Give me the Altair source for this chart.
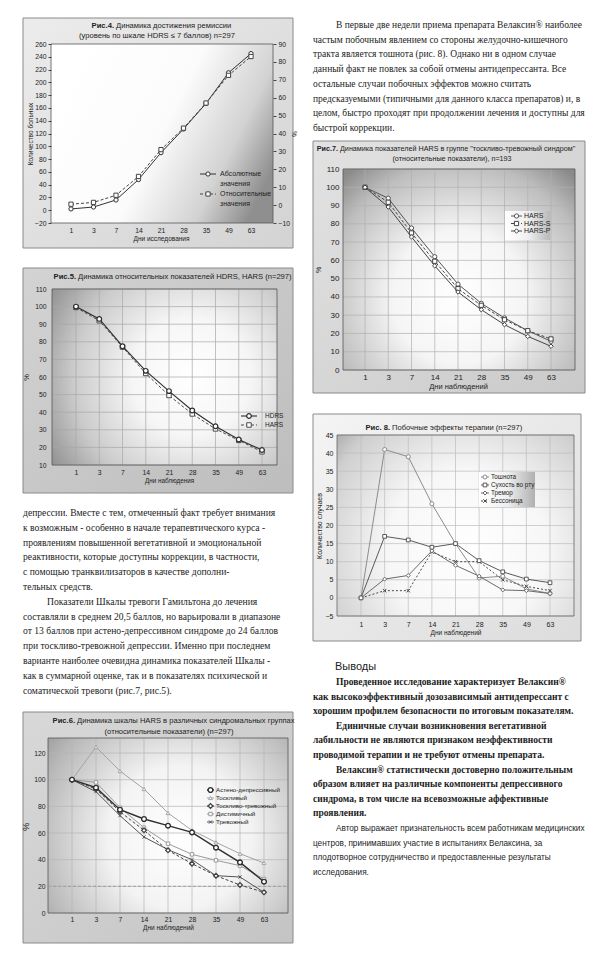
import altair as alt
import pandas as pd

SANS = "Liberation Sans, Arial, sans-serif"
SERIF = "Liberation Serif, Times New Roman, serif"
INK = "#222222"
XPATH = "M-1,-1L1,1M-1,1L1,-1"

days = ["1", "3", "7", "14", "21", "28", "35", "49", "63"]

# Рис.4
fig4_abs = [2, 5, 16, 48, 90, 127, 167, 215, 245]
fig4_rel = [0.5, 1.5, 5.5, 16, 31, 43, 57, 72.5, 83]
fig4_left_ticks = [-20, 0, 20, 40, 60, 80, 100, 120, 140, 160, 180, 200, 220, 240, 260]
fig4_right_ticks = [-10, 0, 10, 20, 30, 40, 50, 60, 70, 80, 90]

# Рис.5
fig5_hdrs = [100, 93, 77.5, 63.5, 52, 41, 32, 24.5, 18.5]
fig5_hars = [99.5, 92, 77, 62, 49.5, 39, 30.5, 24, 17.5]
fig5_ticks = [10, 20, 30, 40, 50, 60, 70, 80, 90, 100, 110]

# Рис.6
fig6_astheno = [100, 94, 77.5, 70.5, 65.5, 60.5, 49, 38, 23.5]
fig6_toskl = [100, 124.5, 106.5, 93, 75, 62, 53, 44.5, 37.5]
fig6_tosk_trev = [100, 93, 76, 62, 47, 37, 28, 21, 15.5]
fig6_dist = [100, 98, 79, 64, 52, 44, 39.5, 35.5, 25.5]
fig6_trev = [100, 91, 73, 57, 47.5, 40, 28, 27, 15.5]
fig6_ticks = [0, 20, 40, 60, 80, 100, 120]

# Рис.7
fig7_hars = [100, 94, 77.7, 62, 47, 36.5, 28.5, 21.5, 15.7]
fig7_hars_s = [100, 91.8, 75, 59.5, 44.5, 35.4, 27.5, 21.5, 17]
fig7_hars_p = [100, 89.2, 72.8, 57, 42.7, 33, 24.8, 18.4, 13]
fig7_ticks = [0, 10, 20, 30, 40, 50, 60, 70, 80, 90, 100, 110]

# Рис.8
fig8_nausea = [0, 41, 39, 26, 15, 5.5, 6, 2.5, 1.2]
fig8_dry = [0, 17, 16, 14, 15, 10.3, 7.2, 5.2, 4.2]
fig8_tremor = [0, 5.2, 6.2, 13, 9, 6, 2.2, 2, 1.2]
fig8_insomnia = [0, 2, 2, 12.7, 10, 10, 5, 3.2, 2]
fig8_ticks = [-5, 0, 5, 10, 15, 20, 25, 30, 35, 40, 45]

text_right_top = [
    "В первые две недели приема препарата Велаксин® наиболее",
    "частым побочным явлением со стороны желудочно-кишечного",
    "тракта является тошнота (рис. 8). Однако ни в одном случае",
    "данный факт не повлек за собой отмены антидепрессанта. Все",
    "остальные   случаи   побочных   эффектов   можно   считать",
    "предсказуемыми (типичными для данного класса препаратов) и, в",
    "целом, быстро проходят при продолжении лечения и доступны для",
    "быстрой коррекции.",
]
text_right_top_ind = [1, 0, 0, 0, 0, 0, 0, 0]

text_left = [
    "депрессии. Вместе с тем, отмеченный факт требует внимания",
    "к возможным - особенно в начале терапевтического курса -",
    "проявлениям повышенной вегетативной и эмоциональной",
    "реактивности, которые доступны коррекции, в частности,",
    "с   помощью   транквилизаторов   в   качестве   дополни-",
    "тельных средств.",
    "Показатели Шкалы тревоги Гамильтона до лечения",
    "составляли в среднем 20,5 баллов, но варьировали в диапазоне",
    "от 13 баллов при астено-депрессивном синдроме до 24 баллов",
    "при тоскливо-тревожной депрессии. Именно при последнем",
    "варианте наиболее очевидна динамика показателей Шкалы -",
    "как в суммарной оценке, так и в показателях психической и",
    "соматической тревоги (рис.7, рис.5).",
]
text_left_ind = [0, 0, 0, 0, 0, 0, 1, 0, 0, 0, 0, 0, 0]

conc_heading = "Выводы"
conc_bold = [
    "Проведенное исследование характеризует Велаксин®",
    "как высокоэффективный дозозависимый антидепрессант с",
    "хорошим профилем безопасности по итоговым показателям.",
    "Единичные   случаи   возникновения   вегетативной",
    "лабильности не являются признаком неэффективности",
    "проводимой терапии и не требуют отмены препарата.",
    "Велаксин®  статистически достоверно положительным",
    "образом влияет на различные компоненты депрессивного",
    "синдрома, в том числе на всевозможные аффективные",
    "проявления.",
]
conc_bold_ind = [1, 0, 0, 1, 0, 0, 1, 0, 0, 0]
conc_thanks = [
    "Автор выражает признательность всем работникам медицинских",
    "центров,  принимавших  участие  в  испытаниях  Велаксина,  за",
    "плодотворное  сотрудничество  и  предоставленные  результаты",
    "исследования.",
]
conc_thanks_ind = [1, 0, 0, 0]


def one():
    return pd.DataFrame({"k": [0]})


def lin(stops, x1=0, y1=0, x2=1, y2=0):
    return alt.LinearGradient(gradient="linear",
                              stops=[alt.GradientStop(offset=o, color=c) for o, c in stops],
                              x1=x1, y1=y1, x2=x2, y2=y2)


def rad(stops, cx, cy, r):
    return alt.RadialGradient(gradient="radial",
                              stops=[alt.GradientStop(offset=o, color=c) for o, c in stops],
                              x1=cx, y1=cy, r1=0, x2=cx, y2=cy, r2=r)


def rect(x0, y0, x1, y1, **kw):
    return alt.Chart(one()).mark_rect(**kw).encode(
        x=alt.value(x0), x2=alt.value(x1), y=alt.value(y0), y2=alt.value(y1))


def txt(s, x, y, size, align="center", weight="normal", font=SANS, color=INK):
    return alt.Chart(pd.DataFrame({"t": [s]})).mark_text(
        align=align, baseline="middle", font=font, fontSize=size, fontWeight=weight, color=color
    ).encode(text="t:N", x=alt.value(x), y=alt.value(y))


def x_axis(title, offset, fs, tfs, lpad, tpad):
    return alt.Axis(title=title, offset=offset, labelAngle=0, domain=False, ticks=False, grid=False,
                    labelFont=SANS, labelFontSize=fs, labelColor=INK, labelPadding=lpad,
                    titleFont=SANS, titleFontSize=tfs, titleFontWeight="normal", titleColor=INK,
                    titlePadding=tpad, zindex=1)


def y_axis(title, values, offset, fs, tfs, lpad, tpad, orient="left", ticks=False):
    kw = dict(title=title, values=values, offset=offset, orient=orient, domain=False, grid=False,
              labelFont=SANS, labelFontSize=fs, labelColor=INK, labelPadding=lpad, labelOverlap=False,
              titleFont=SANS, titleFontSize=tfs, titleFontWeight="normal", titleColor=INK,
              titlePadding=tpad, zindex=1)
    if ticks:
        kw.update(ticks=True, tickSize=3, tickColor="#444444")
    else:
        kw["ticks"] = False
    return alt.Axis(**kw)


def xenc(xr, axis):
    return alt.X("day:O", scale=alt.Scale(type="point", domain=days, range=xr, padding=0), axis=axis)


def yenc(dom, yr, axis):
    return alt.Y("value:Q", scale=alt.Scale(domain=dom, range=yr, nice=False, zero=False), axis=axis)


def series_layers(X, Y, s):
    df = pd.DataFrame({"day": days, "value": s["values"]})
    base = alt.Chart(df)
    lk = {"color": s["color"], "strokeWidth": s.get("w", 1.0)}
    if "dash" in s:
        lk["strokeDash"] = s["dash"]
    line = base.mark_line(**lk).encode(x=X, y=Y)
    pts = base.mark_point(shape=s["shape"], filled=True, fill="white", stroke=s["color"],
                          strokeWidth=s.get("pw", 1.0), size=s.get("size", 18), opacity=1
                          ).encode(x=X, y=Y)
    return [line, pts]


def grid_layers(X, Y, ticks, L, T, R, B, color, w=0.7):
    gv = alt.Chart(pd.DataFrame({"day": days})).mark_rule(color=color, strokeWidth=w).encode(
        x=X, y=alt.value(T), y2=alt.value(B))
    gh = alt.Chart(pd.DataFrame({"value": ticks})).mark_rule(color=color, strokeWidth=w).encode(
        y=Y, x=alt.value(L), x2=alt.value(R))
    return [gv, gh]


def legend_group(entries, ys, sx0, sx1, tx, fs, text_kw=None):
    names = [e["name"] for e in entries]
    LY = alt.Y("series:N", scale=alt.Scale(type="point", domain=names, range=ys, padding=0), axis=None)
    tk = {"align": "left", "baseline": "middle", "font": SANS, "fontSize": fs, "color": INK}
    tk.update(text_kw or {})
    layers = []
    for e in entries:
        df = pd.DataFrame({"series": [e["name"]], "label": [e.get("label", e["name"])]})
        b = alt.Chart(df)
        rk = {"color": e["color"], "strokeWidth": e.get("w", 1.0)}
        if "dash" in e:
            rk["strokeDash"] = e["dash"]
        layers.append(b.mark_rule(**rk).encode(x=alt.value(sx0), x2=alt.value(sx1), y=LY))
        layers.append(b.mark_point(shape=e["shape"], filled=True, fill="white", stroke=e["color"],
                                   strokeWidth=e.get("pw", 1.0), size=e.get("size", 18), opacity=1
                                   ).encode(x=alt.value((sx0 + sx1) / 2), y=LY))
        layers.append(b.mark_text(**tk).encode(x=alt.value(tx), y=LY, text="label:N"))
    return alt.layer(*layers)


def frame(L, T, R, B, color="#555555"):
    return rect(L, T, R, B, fillOpacity=0, stroke=color, strokeWidth=0.8)


TS = 7.6   # chart title size
LS = 6.8   # tick label size


# ---------------- Рис.4 ----------------
def make_fig4():
    W, H = 270, 230
    L, T, R, B = 28, 26, 250, 205
    X = xenc([48, 228], x_axis("Дни исследования", -(H - B), LS, 6.5, 4, 2))
    YL = yenc([-20, 260], [B, T], y_axis("Количество больных", fig4_left_ticks, -L, LS, 6.5, 2, 1, ticks=True))
    YR = yenc([-10, 90], [B, T], y_axis("%", fig4_right_ticks, -(W - R), LS, 6.5, 2, 1, orient="right", ticks=True))
    s_abs = {"name": "abs", "values": fig4_abs, "color": "#333333", "shape": "circle", "size": 18,
             "label": "Абсолютные\nзначения"}
    s_rel = {"name": "rel", "values": fig4_rel, "color": "#444444", "shape": "square", "size": 18,
             "dash": [3, 2], "label": "Относительные\nзначения"}
    left = alt.layer(frame(L, T, R, B), *series_layers(X, YL, s_abs))
    right = alt.layer(*series_layers(X, YR, s_rel))
    leg = legend_group([s_abs, s_rel], [156, 176], 177, 193, 197, 7,
                       {"lineBreak": "\n", "baseline": "top", "dy": -4, "lineHeight": 9.5})
    layers = [
        rect(0, 0, W, H, fill=lin([(0, "#ececec"), (1, "#d3d3d3")], 0, 0, 1, 1), stroke="#8a8a8a", strokeWidth=1),
        rect(L, T, R, B, fill=lin([(0, "#ffffff"), (0.5, "#fbfbfb"), (0.8, "#d2d2d2"), (1, "#8f8f8f")], 0, 0.3, 1, 0.7)),
        left, right, leg,
        txt("Рис.4.", 91, 8, TS, align="right", weight="bold"),
        txt("Динамика достижения ремиссии", 93, 8, TS, align="left"),
        txt("(уровень по шкале HDRS ≤  7 баллов) n=297", 134, 18, TS),
    ]
    return alt.layer(*layers).resolve_scale(y="independent").properties(width=W, height=H)


# ---------------- Рис.5 ----------------
def make_fig5():
    W, H = 270, 225
    L, T, R, B = 29, 21, 254, 197
    X = xenc([53, 239], x_axis("Дни наблюдения", -(H - B), LS, 6.3, 4, 2))
    Y = yenc([10, 110], [B, T], y_axis("%", fig5_ticks, -L, LS, 7.5, 6, 4))
    s1 = {"name": "HDRS", "values": fig5_hdrs, "color": "#2e2e2e", "shape": "circle", "size": 22, "w": 1.1, "pw": 1.2}
    s2 = {"name": "HARS", "values": fig5_hars, "color": "#4a4a4a", "shape": "square", "size": 20, "dash": [3, 2]}
    data = alt.layer(*grid_layers(X, Y, fig5_ticks, L, T, R, B, "#a8a8a8"), frame(L, T, R, B),
                     *series_layers(X, Y, s2), *series_layers(X, Y, s1))
    leg = legend_group([s1, s2], [148, 157], 218, 234, 242, 6.5)
    layers = [
        rect(0, 0, W, H, fill=lin([(0, "#d3d3d3"), (1, "#bdbdbd")], 0, 0, 1, 1), stroke="#8a8a8a", strokeWidth=1),
        rect(L, T, R, B, fill=rad([(0, "#ffffff"), (0.35, "#f6f6f6"), (0.7, "#cbcbcb"), (1, "#8c8c8c")], 0.62, 0.5, 0.75)),
        data, leg,
        txt("Рис.5.", 53, 9, TS, align="right", weight="bold"),
        txt("Динамика относительных показателей HDRS, HARS (n=297)", 55, 9, TS, align="left"),
    ]
    return alt.layer(*layers).resolve_scale(y="independent").properties(width=W, height=H)


# ---------------- Рис.6 ----------------
def make_fig6():
    W, H = 270, 231
    L, T, R, B = 25, 26, 265, 201
    X = xenc([49, 241], x_axis("Дни наблюдений", -(H - B), LS, 6.5, 3, 2))
    Y = yenc([0, 130], [B, 27.7], y_axis("%", fig6_ticks, -L, LS, 9.5, 3, 3))
    sa = {"name": "Астено-депрессивный", "values": fig6_astheno, "color": "#2f2f2f", "shape": "circle",
          "size": 22, "w": 1.4, "pw": 1.4}
    sb = {"name": "Тоскливый", "values": fig6_toskl, "color": "#a3a3a3", "shape": "triangle-up", "size": 14}
    sc = {"name": "Тоскливо-тревожный", "values": fig6_tosk_trev, "color": "#404040", "shape": "diamond",
          "size": 22, "dash": [3, 2], "pw": 1.3}
    sd = {"name": "Дистимичный", "values": fig6_dist, "color": "#9a9a9a", "shape": "square", "size": 12}
    se = {"name": "Тревожный", "values": fig6_trev, "color": "#555555", "shape": XPATH, "size": 10}
    dash20 = alt.Chart(pd.DataFrame({"value": [20]})).mark_rule(color="#9a9a9a", strokeDash=[3, 2], strokeWidth=0.9).encode(
        y=Y, x=alt.value(L), x2=alt.value(R))
    data = alt.layer(*grid_layers(X, Y, fig6_ticks, L, T, R, B, "#b4b4b4"), frame(L, T, R, B), dash20,
                     *series_layers(X, Y, sb), *series_layers(X, Y, sd), *series_layers(X, Y, se),
                     *series_layers(X, Y, sc), *series_layers(X, Y, sa))
    leg = legend_group([sa, sb, sc, sd, se], [78, 110], 184, 191, 193, 6.2)
    layers = [
        rect(0, 0, W, H, fill=lin([(0, "#d8d8d8"), (1, "#c4c4c4")], 0, 0, 1, 1), stroke="#8a8a8a", strokeWidth=1),
        rect(L, T, R, B, fill=rad([(0, "#ffffff"), (0.4, "#f3f3f3"), (0.8, "#b8b8b8"), (1, "#909090")], 0.55, 0.55, 0.75)),
        data, leg,
        txt("Рис.6.", 52, 9, TS, align="right", weight="bold"),
        txt("Динамика шкалы HARS в различных синдромальных группах", 54, 9, TS, align="left"),
        txt("(относительные показатели) (n=297)", 146, 20, TS),
    ]
    return alt.layer(*layers).resolve_scale(y="independent").properties(width=W, height=H)


# ---------------- Рис.7 ----------------
def make_fig7():
    W, H = 272, 252
    L, T, R, B = 30, 28, 262, 229
    X = xenc([52, 238], x_axis("Дни наблюдений", -(H - B), 8, 7.5, 3.5, 1))
    Y = yenc([0, 110], [B, T], y_axis("%", fig7_ticks, -L, 8, 7, 4, 4))
    s1 = {"name": "HARS", "values": fig7_hars, "color": "#555555", "shape": "circle", "size": 18}
    s2 = {"name": "HARS-S", "values": fig7_hars_s, "color": "#444444", "shape": "square", "size": 18, "dash": [3, 2]}
    s3 = {"name": "HARS-P", "values": fig7_hars_p, "color": "#444444", "shape": "diamond", "size": 20}
    data = alt.layer(*grid_layers(X, Y, fig7_ticks, L, T, R, B, "#b0b0b0"), frame(L, T, R, B),
                     *series_layers(X, Y, s1), *series_layers(X, Y, s2), *series_layers(X, Y, s3))
    leg = legend_group([s1, s2, s3], [75, 90], 198, 209, 211, 7)
    layers = [
        rect(0, 0, W, H, fill=lin([(0, "#e2e2e2"), (1, "#cacaca")], 0, 0, 1, 1), stroke="#8a8a8a", strokeWidth=1),
        rect(L, T, R, B, fill=rad([(0, "#ffffff"), (0.4, "#f5f5f5"), (0.8, "#bdbdbd"), (1, "#8a8a8a")], 0.5, 0.62, 0.72)),
        data,
        rect(192, 70, 237, 99, fill=lin([(0, "#ffffff"), (0.5, "#f0f0f0"), (1, "#b8b8b8")])),
        leg,
        txt("Рис.7.", 25, 8, 7.2, align="right", weight="bold"),
        txt("Динамика показателей HARS в группе \"тоскливо-тревожный синдром\"", 27, 8, 7.2, align="left"),
        txt("(относительные показатели), n=193", 139, 18, 7.2),
    ]
    return alt.layer(*layers).resolve_scale(y="independent").properties(width=W, height=H)


# ---------------- Рис.8 ----------------
def make_fig8():
    W, H = 268, 227
    L, T, R, B = 24, 21, 261, 202
    X = xenc([48, 237], x_axis("Дни наблюдений", -(H - B), 7, 6.5, 4, 2))
    Y = yenc([-5, 45], [B, T], y_axis("Количество случаев", fig8_ticks, -L, 7, 7, 4, 3))
    s1 = {"name": "Тошнота", "values": fig8_nausea, "color": "#8c8c8c", "shape": "circle", "size": 16}
    s2 = {"name": "Сухость во рту", "values": fig8_dry, "color": "#5a5a5a", "shape": "square", "size": 14}
    s3 = {"name": "Тремор", "values": fig8_tremor, "color": "#6a6a6a", "shape": "diamond", "size": 16}
    s4 = {"name": "Бессоница", "values": fig8_insomnia, "color": "#4a4a4a", "shape": XPATH, "size": 12, "dash": [2, 2]}
    data = alt.layer(*grid_layers(X, Y, fig8_ticks, L, T, R, B, "#bdbdbd"), frame(L, T, R, B, "#666666"),
                     *series_layers(X, Y, s1), *series_layers(X, Y, s4), *series_layers(X, Y, s3),
                     *series_layers(X, Y, s2))
    leg = legend_group([s1, s2, s3, s4], [63, 87], 168, 176, 178, 6.3)
    layers = [
        rect(0, 0, W, H, fill=lin([(0, "#f4f4f4"), (1, "#dcdcdc")], 0, 0, 1, 1), stroke="#8a8a8a", strokeWidth=1),
        rect(L, T, R, B, fill=rad([(0, "#ffffff"), (0.45, "#f7f7f7"), (0.85, "#cfcfcf"), (1, "#a8a8a8")], 0.55, 0.6, 0.75)),
        data,
        rect(166, 58, 222, 93, fill=lin([(0, "#ffffff"), (0.5, "#f0f0f0"), (1, "#b0b0b0")])),
        leg,
        txt("Рис. 8.", 77, 14, TS, align="right", weight="bold"),
        txt("Побочные эффекты терапии (n=297)", 79, 14, TS, align="left"),
    ]
    return alt.layer(*layers).resolve_scale(y="independent").properties(width=W, height=H)


# ---------------- text blocks ----------------
def text_lines(lines, indents, y0, step, font, size, weight, indent_px):
    n = len(lines)
    last = max(n - 1, 1)
    df = pd.DataFrame({"line": lines, "i": list(range(n)), "ind": indents})
    return alt.Chart(df).mark_text(align="left", baseline="middle", font=font, fontSize=size,
                                   fontWeight=weight, color="#1c1c1c").encode(
        x=alt.X("ind:Q", scale=alt.Scale(domain=[0, 1], range=[0, indent_px]), axis=None),
        y=alt.Y("i:Q", scale=alt.Scale(domain=[0, last], range=[y0, y0 + step * last]), axis=None),
        text="line:N")


def spacer(W, H):
    return rect(0, 0, W, H, opacity=0).properties(width=W, height=H)


block_rt = text_lines(text_right_top, text_right_top_ind, 7, 14.7, SERIF, 9.5, "normal", 23).properties(
    width=272, height=122)

block_left = text_lines(text_left, text_left_ind, 19, 14.8, SERIF, 9.6, "normal", 24).properties(
    width=270, height=217)

block_rb = alt.layer(
    txt(conc_heading, 22, 25, 11, align="left"),
    text_lines(conc_bold, conc_bold_ind, 40, 14.6, SERIF, 9.5, "bold", 23),
    text_lines(conc_thanks, conc_thanks_ind, 187, 14.6, SANS, 8.2, "normal", 23),
).resolve_scale(x="independent", y="independent").properties(width=272, height=243)

left_col = alt.vconcat(make_fig4(), spacer(270, 18), make_fig5(), block_left, make_fig6(), spacing=0)
right_col = alt.vconcat(block_rt, make_fig7(), spacer(272, 19), make_fig8(), block_rb, spacing=0)

chart = alt.hconcat(left_col, right_col, spacing=15).properties(
    padding={"left": 12, "top": 9, "right": 4, "bottom": 4},
    background="#ffffff",
).configure_view(strokeWidth=0)

chart.save("out.html", embed_options={"renderer": "svg", "actions": False})
